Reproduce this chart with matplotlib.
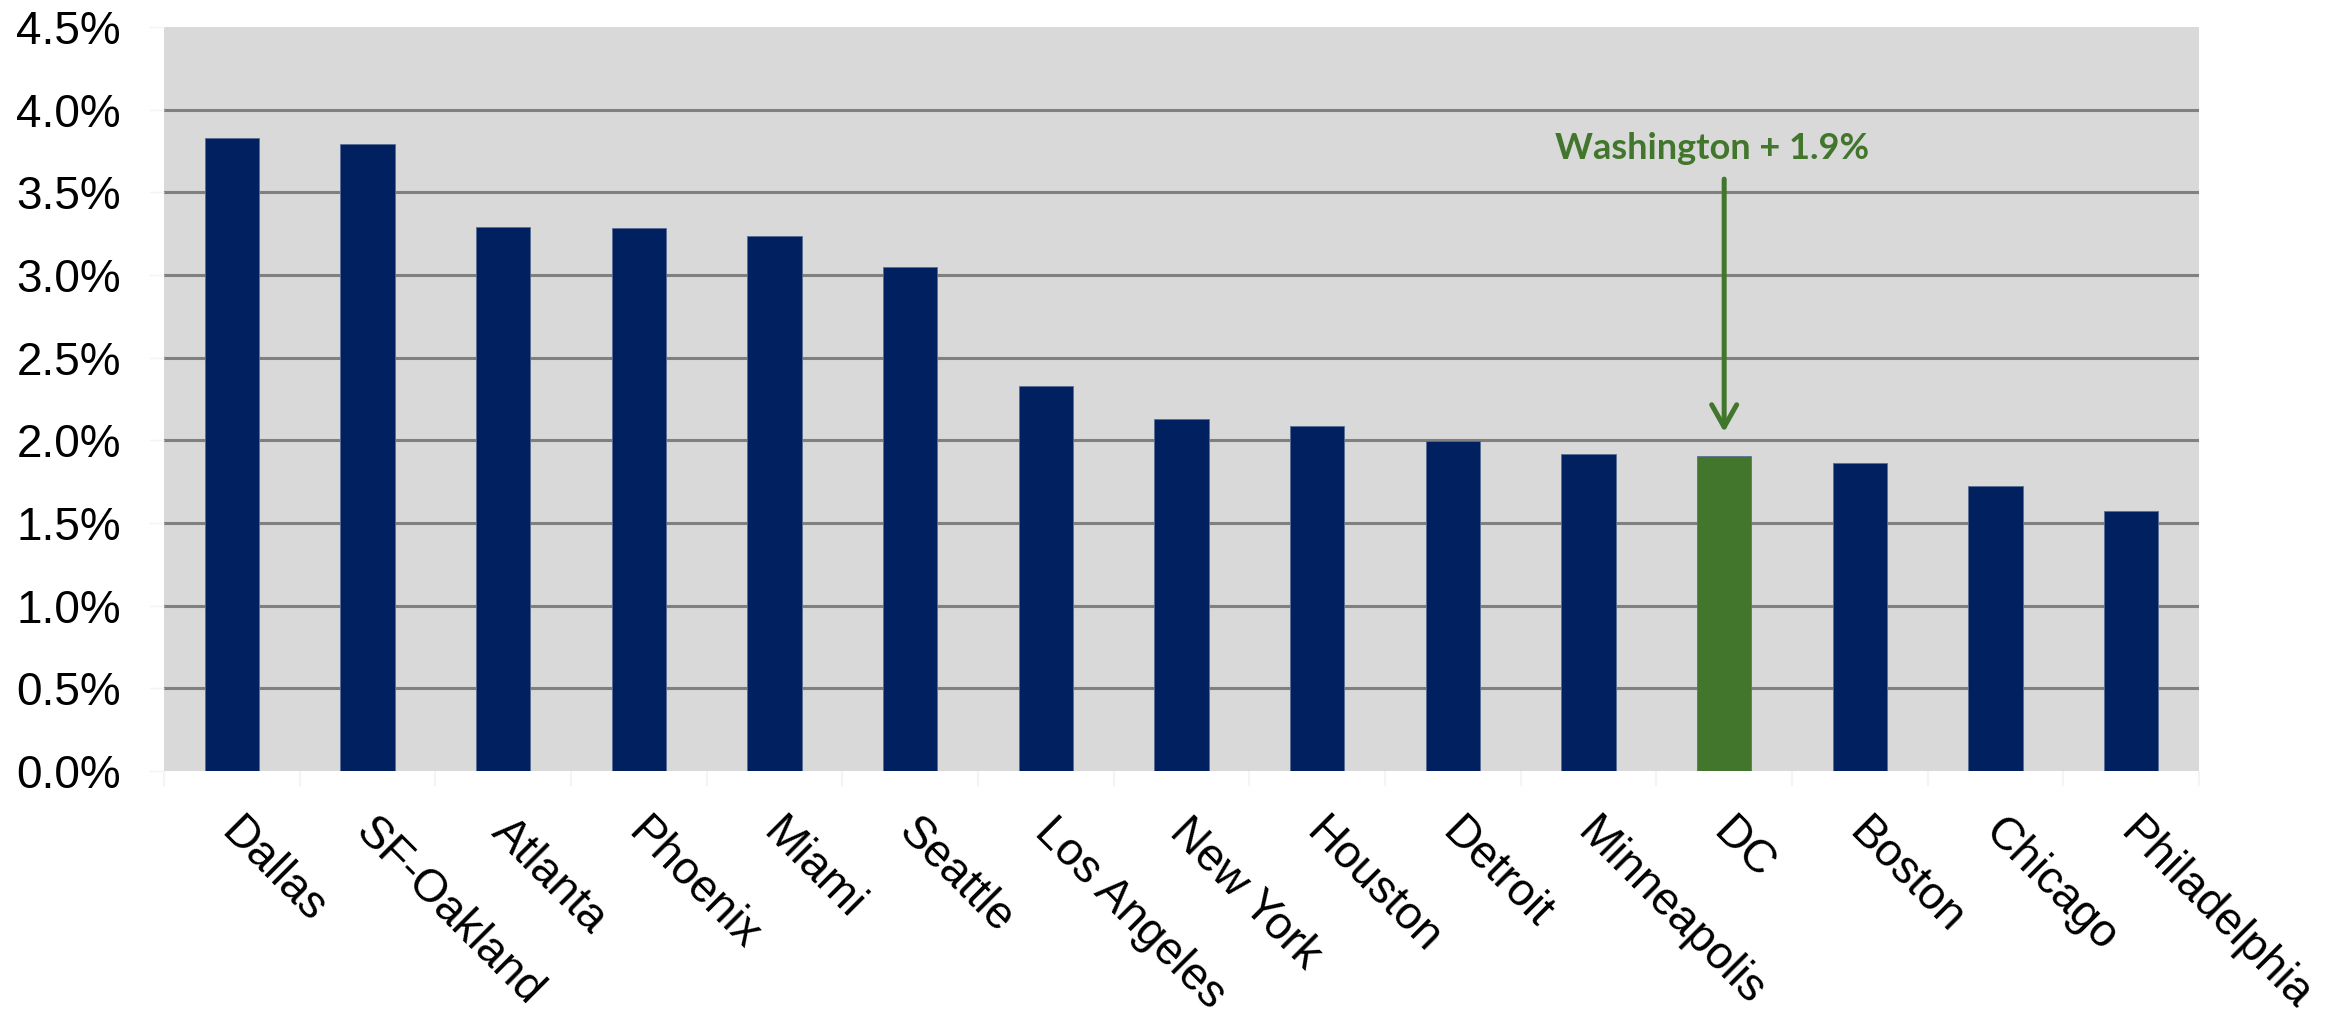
import matplotlib
matplotlib.use("Agg")
import matplotlib.pyplot as plt
import matplotlib.transforms as mtransforms
from matplotlib.ticker import FixedLocator, FuncFormatter

cities = ["Dallas", "SF-Oakland", "Atlanta", "Phoenix", "Miami", "Seattle",
          "Los Angeles", "New York", "Houston", "Detroit", "Minneapolis",
          "DC", "Boston", "Chicago", "Philadelphia"]
growth = [3.83, 3.79, 3.29, 3.285, 3.235, 3.05, 2.33, 2.13, 2.085, 1.995,
          1.92, 1.905, 1.865, 1.725, 1.57]
highlight = "DC"
annotation_text = "Washington + 1.9%"
yticks = [0.0, 0.5, 1.0, 1.5, 2.0, 2.5, 3.0, 3.5, 4.0, 4.5]

NAVY = "#00205F"
GREEN = "#41762C"
BG = "#D9D9D9"
GRID = "#808080"

plt.rcParams['font.family'] = ['Liberation Sans', 'DejaVu Sans']

fig = plt.figure(figsize=(23.45, 10.16), dpi=100)
ax = fig.add_axes([164/2345, 1 - 771/1016, (2199-164)/2345, (771-27)/1016])
ax.set_facecolor(BG)

x = list(range(len(cities)))
colors = [GREEN if c == highlight else NAVY for c in cities]
ax.bar(x, growth, width=0.4, color=colors, edgecolor="#5A6E96", linewidth=0.6, zorder=3)

ax.set_xlim(-0.5, len(cities) - 0.5)
ax.set_ylim(0, 4.5)
ax.set_yticks(yticks)
ax.yaxis.set_major_formatter(FuncFormatter(lambda v, p: f"{v:.1f}%"))
for yv in yticks[1:-1]:
    ax.axhline(yv, color=GRID, lw=2.2, zorder=1)

for s in ax.spines.values():
    s.set_visible(False)

ax.tick_params(axis='y', length=11, width=1, color="#F4F4F4", pad=20, labelsize=33)
ax.set_xticks(x)
ax.set_xticklabels(cities, rotation=-45, ha='left', va='top', rotation_mode='anchor', fontsize=33)
ax.tick_params(axis='x', which='major', length=0, pad=28)
ax.xaxis.set_minor_locator(FixedLocator([i - 0.5 for i in range(len(cities) + 1)]))
ax.tick_params(axis='x', which='minor', length=11, width=1.5, color="#F4F4F4")

offset = mtransforms.ScaledTranslation(0.11, 0, fig.dpi_scale_trans)
for lab in ax.get_xticklabels():
    lab.set_transform(lab.get_transform() + offset)

idx = cities.index(highlight)
ax.annotate("", xy=(idx, 2.05), xytext=(idx, 3.58),
            arrowprops=dict(arrowstyle="->,head_length=0.8,head_width=0.45",
                            color=GREEN, lw=3.6, mutation_scale=20,
                            shrinkA=0, shrinkB=0), zorder=4)
ax.text(idx - 0.09, 3.765, annotation_text, color=GREEN, fontsize=26,
        fontweight='bold', family=['Lato', 'DejaVu Sans'], ha='center', va='center', zorder=4)

fig.savefig("out.png", dpi=100)
